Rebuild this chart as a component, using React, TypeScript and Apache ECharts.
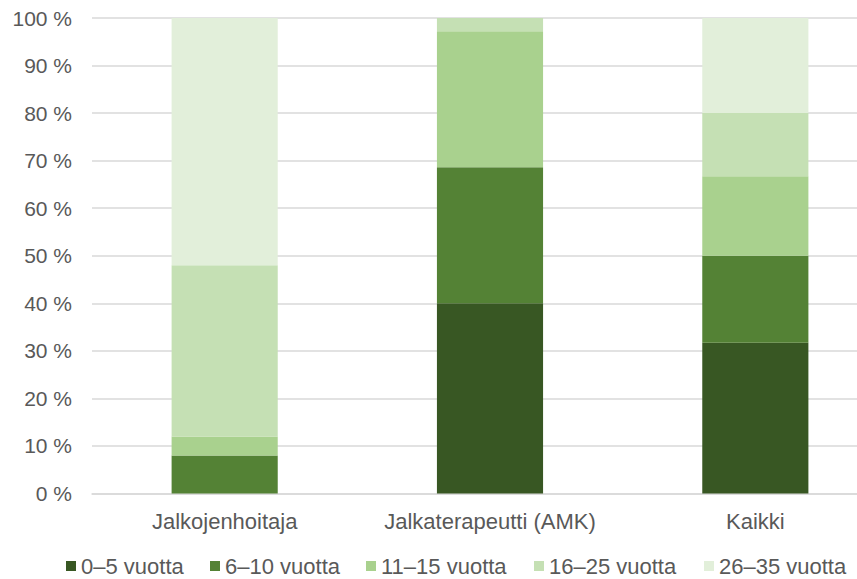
import React, { useEffect, useRef } from "react";
import * as echarts from "echarts";

const categories = ["Jalkojenhoitaja", "Jalkaterapeutti (AMK)", "Kaikki"];
const seriesNames = ["0–5 vuotta", "6–10 vuotta", "11–15 vuotta", "16–25 vuotta", "26–35 vuotta"];
const v0to5 = [0, 40, 31.7];
const v6to10 = [8, 28.6, 18.3];
const v11to15 = [4, 28.6, 16.7];
const v16to25 = [36, 2.9, 13.3];
const v26to35 = [52, 0, 20];
const colors = ["#385723", "#548235", "#A9D18E", "#C5E0B4", "#E2EFDA"];

const allValues = [v0to5, v6to10, v11to15, v16to25, v26to35];
const legendLeft = [66, 210, 366, 534, 704];

export default function App() {
  const ref = useRef<HTMLDivElement>(null);
  useEffect(() => {
    if (!ref.current) return;
    const chart = echarts.init(ref.current, undefined, { renderer: "svg" });
    const font = "Liberation Sans, Arial, sans-serif";
    chart.setOption({
      animation: false,
      backgroundColor: "#ffffff",
      grid: { left: 92, right: 0, top: 18, bottom: 85.5 },
      legend: seriesNames.map((name, i) => ({
        left: legendLeft[i],
        top: 555,
        padding: 0,
        itemWidth: 10,
        itemHeight: 10,
        icon: "rect",
        data: [name],
        textStyle: { color: "#595959", fontSize: 22, fontFamily: font, lineHeight: 22 },
      })),
      xAxis: {
        type: "category",
        data: categories,
        axisTick: { show: false },
        axisLine: { lineStyle: { color: "#D9D9D9", width: 1.5 } },
        axisLabel: { color: "#595959", fontSize: 22, fontFamily: font, margin: 17, interval: 0 },
      },
      yAxis: {
        type: "value",
        min: 0,
        max: 100,
        interval: 10,
        axisLine: { show: false },
        axisTick: { show: false },
        splitLine: { lineStyle: { color: "#D9D9D9", width: 1.5 } },
        axisLabel: {
          color: "#595959",
          fontSize: 21,
          fontFamily: font,
          margin: 20,
          formatter: (v: number) => `${v} %`,
        },
      },
      series: seriesNames.map((name, i) => ({
        name,
        type: "bar",
        stack: "total",
        barWidth: "40%",
        data: allValues[i],
        itemStyle: { color: colors[i] },
      })),
    });
    return () => chart.dispose();
  }, []);
  return (
    <div style={{ position: "fixed", left: 0, top: 0, width: 857, height: 579, overflow: "hidden", background: "#fff" }}>
      <div ref={ref} style={{ width: 888, height: 579 }} />
    </div>
  );
}
